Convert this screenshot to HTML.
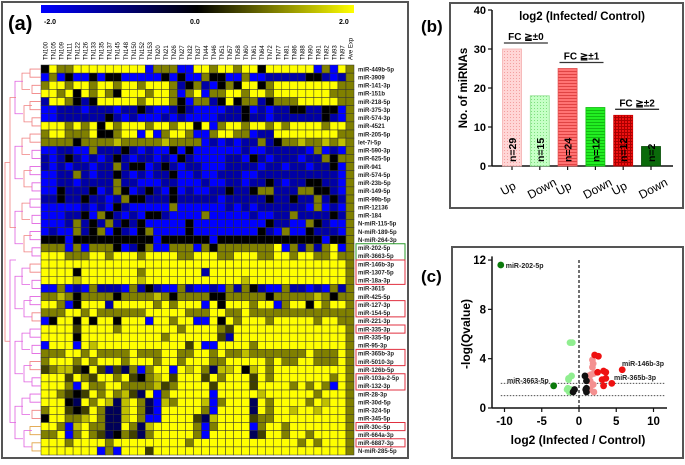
<!DOCTYPE html>
<html><head><meta charset="utf-8"><style>
body{margin:0;background:#fff;font-family:"Liberation Sans",sans-serif}
svg text{font-family:"Liberation Sans",sans-serif}
</style></head><body>
<svg id="fig" width="685" height="460" viewBox="0 0 685 460" xmlns="http://www.w3.org/2000/svg">
<defs>
<linearGradient id="cbar" x1="0" x2="1" y1="0" y2="0"><stop offset="0" stop-color="#0000ff"/><stop offset="0.5" stop-color="#000000"/><stop offset="1" stop-color="#ffff00"/></linearGradient>
<pattern id="pDot" width="3" height="3" patternUnits="userSpaceOnUse"><rect width="3" height="3" fill="#ffd6d6"/><rect width="1" height="1" fill="#f3a0a0"/></pattern>
<pattern id="pDotG" width="3" height="3" patternUnits="userSpaceOnUse"><rect width="3" height="3" fill="#c6ffc6"/><rect width="1" height="1" fill="#7fe07f"/></pattern>
<pattern id="pStripe" width="4" height="3" patternUnits="userSpaceOnUse"><rect width="4" height="3" fill="#ff7373"/><rect y="2" width="4" height="1" fill="#e04444"/></pattern>
<pattern id="pStripeG" width="4" height="3" patternUnits="userSpaceOnUse"><rect width="4" height="3" fill="#22ee22"/><rect y="2" width="4" height="1" fill="#11bb11"/></pattern>
<pattern id="pGrid" width="3" height="3" patternUnits="userSpaceOnUse"><rect width="3" height="3" fill="#ee1111"/><rect width="1" height="3" fill="#aa0000"/><rect width="3" height="1" fill="#aa0000"/></pattern>
</defs>
<rect x="2" y="2" width="406" height="456" fill="#fff" stroke="#555" stroke-width="2"/>
<rect x="450" y="3" width="233" height="205" fill="#fff" stroke="#555" stroke-width="2"/>
<rect x="452" y="247" width="231" height="211" fill="#fff" stroke="#555" stroke-width="2"/>
<text x="8" y="30" font-size="20" font-weight="bold">(a)</text>
<text x="421" y="32" font-size="17" font-weight="bold">(b)</text>
<text x="421" y="282" font-size="17" font-weight="bold">(c)</text>
<rect x="41" y="5" width="313" height="8" fill="url(#cbar)"/>
<text x="44" y="24" font-size="7" font-weight="bold">-2.0</text>
<text x="190" y="24" font-size="7" font-weight="bold">0.0</text>
<text x="339" y="24" font-size="7" font-weight="bold">2.0</text>
<g id="hm"></g><g id="bar"></g><g id="vol"></g>
</svg>
<script>
const NS="http://www.w3.org/2000/svg";
function mk(p,t,a,txt){const e=document.createElementNS(NS,t);for(const k in a)e.setAttribute(k,a[k]);if(txt!==undefined)e.textContent=txt;p.appendChild(e);return e;}
// ---------- heatmap data ----------
const hmColumns=["TN100","TN105","TN109","TN111","TN122","TN126","TN133","TN135","TN137","TN145","TN148","TN150","TN152","TN153","TN20","TN21","TN26","TN27","TN32","TN37","TN44","TN46","TN51","TN57","TN58","TN60","TN61","TN64","TN72","TN77","TN81","TN86","TN88","TN90","TN91","TN92","TN93","TN97","Ave Exp"];
const hmRowLabels=["miR-449b-5p","miR-3909","miR-141-3p","miR-151b","miR-218-5p","miR-375-3p","miR-574-3p","miR-4521","miR-205-5p","let-7i-5p","miR-590-3p","miR-625-5p","miR-941","miR-574-5p","miR-23b-5p","miR-149-5p","miR-99b-5p","miR-12136","miR-184","N-miR-115-5p","N-miR-189-5p","N-miR-264-3p","miR-202-5p","miR-3663-5p","miR-146b-3p","miR-1307-5p","miR-18a-3p","miR-3615","miR-425-5p","miR-127-3p","miR-154-5p","miR-221-3p","miR-335-3p","miR-335-5p","miR-95-3p","miR-365b-3p","miR-5010-3p","miR-126b-5p","miR-103a-2-5p","miR-132-3p","miR-28-3p","miR-30d-5p","miR-324-5p","miR-345-5p","miR-30c-5p","miR-664a-3p","miR-6887-3p","N-miR-285-5p"];
const hmLevelKeys="Bbnkdoly";
const hmLevelValues=[-2,-1.3,-0.7,0,0.5,1,1.5,2];
const hmRows=[
"kyooyyyyyyyyyBoooBByyoyyoyykyyyyyyBoBy",
"BoBkBBkBkkBBBBBkBkBBokkBBoBBbbbbbkkbBb",
"oyyoyyoyyoyyoyyyobkobBkokyykoyyyyyyyyo",
"yyoykyoyokyyyoyyoBoyBooyyoyyoyyyyyyyoo",
"byyokbkyyyyyoyyyokBoobkykoobkoooyyyyyo",
"BBbbbBbbbBbbkbBBbkbBBBBbbkBbBbbkkbbkkB",
"BBbbbbbbkbBbBBBbBbBBBBbbbkbbBbbbbbbkbB",
"yyyoyoykyoyyyoyyoyykyBoyyoyyoyoyyyyoyy",
"oyyoooykkoyyByBoyyoBBoyyooBbbyyyyyyyyo",
"ooookoooolooooolooooBbBbBbbobkooloolol",
"BBbbBBobbbkbBbBBkBkBBBBBBbBBbbbbbBoBbB",
"bBbkbBbBbkbBbbBbBkbBBBBbbBkbBbbbBbboko",
"bBbBbbBbbobkkBbkbBbbBBBbbbbBbbBbbBbbkB",
"BBbbobBbbkbBbBbbkBBbBBbbbBBbbbbbbbbbbB",
"BBbbBbbbbobbBBBbbBBBbBBbbBbbkbBbbkkbbB",
"BBkbbbkBbokBbkbBkBbBBbbkbbkoobbbookkbB",
"bbkbbkbbBbokkbbbkbbbbbBbbbbbkbbkbbobkb",
"BBBBBbBbBkbBBBBBoBBBBBBbBbBbbbbbbBoBbB",
"BBBbbkBokbBbBkkbBBBBoBBBBBbBBbbobbbbkb",
"BBBbobkbobkbkBBBBBkBBBBBBBBBkbbBBokbBB",
"BbBBobkoBkbBkoBBBBkBBBBBBBBkbBoBBkbbbB",
"kkkBkkkkkkkkkkBkkkkkkBkkkkkkkkkkkkkBkk",
"oooBoBoookBbkoBBoooBokoooooooyBoboboyB",
"yyyoooyyoyyyoyyyyooyyyooyyyooyyoyyooyo",
"yyyyyyyyyyyyyyyyyyyyyyyyyyyyyyyyyyyyyy",
"yyyykyyyyyyyoyyyyyyybyyyyyyyyyyyyyyyyy",
"yyyylyyyyyyylyyyyyyyyyyyylyyyyyyyyyyyy",
"BBoBbBobbbBobkbBBobBBbBobokbBBobbBbBob",
"oolokooookoooolokooookkoooookoooooloko",
"yyoBkyyybyyyyyoyoyyyBykyyyoyyBoyykyoyy",
"oooyyoyooooooyyyyyoooyyooyoooooooooooo",
"BkyykykyykyyyByyoyyBBykyoyyyoyyyyyoyyo",
"yyyydyyyyoyyyyyyyoyyyyodyyyyyyyyyyyyyy",
"yyyykyyyyyyyyyyoyyyyyydbyyyyyyyyyyyyyy",
"ByyyBylyyyyyyyyyyydyBByyyyoyyyyyyyyyyy",
"oooyyoyooooyoooyyooyyoyooloooooooyoooy",
"oyyyoyoyyyoyyyoyyoyyyooyyyyyoyooyyoooy",
"dolldkydbdnoBoyyBylyonllyklyoyyyyyyyyy",
"yyydyodyyoydkolydyyydyoyyydyoyyyyyyyoy",
"yyyoByooyyooooldoyyyydyyyydyyyyoyoyoBy",
"yyodkdyoyoldnyBoyyyyyByyyyylyyyyyyoyyy",
"yyyknyoylnlyonBloyyylBoyyynyoyyyyoylyy",
"oyydkdyonnlyonByyyyyoByyyynyoyylyylyyy",
"kyyoolyonnlyoBByyyydnlyyyydooyyyyyyyyy",
"yyoBlyoonnyonlyyyyyoBoyyyyBoyyoyyyyyyy",
"ooyBoyodnkodnoyyyyyoByyyyyndyyoyyoyyyy",
"yyyoyyyyoyyyyyyyyyoyyyyyyyyyyyyyoyoyyy",
"yyyyyyyBoByyydyyyyyyyyyyyyyyyyyyyyyyyy"
];
function hmColor(v){
  if(v<0){const t=Math.min(1,-v/2);return `rgb(0,0,${Math.round(255*t)})`;}
  const t=Math.min(1,v/2);return `rgb(${Math.round(255*t)},${Math.round(255*t)},0)`;
}
const hm=document.getElementById('hm');
const gx0=41,gy0=65,gx1=354,gy1=455;
const nCol=hmColumns.length, nRow=hmRows.length;
const cw=(gx1-gx0)/nCol, ch=(gy1-gy0)/nRow;
mk(hm,'rect',{x:gx0,y:gy0,width:gx1-gx0,height:gy1-gy0,fill:'#333'});
hmRows.forEach((row,r)=>{
  for(let c=0;c<nCol;c++){
    const key=row[c]||'o';
    const v=hmLevelValues[hmLevelKeys.indexOf(key)];
    const el=mk(hm,'rect',{x:(gx0+c*cw).toFixed(2),y:(gy0+r*ch).toFixed(2),width:cw.toFixed(2),height:ch.toFixed(2),fill:hmColor(v),stroke:'#333','stroke-width':0.5});
    
    
  }
});
hmColumns.forEach((c,i)=>{
  const x=gx0+i*cw+cw/2+2.5;
  const t=mk(hm,'text',{x:x,y:60,'font-size':6,transform:`rotate(-90 ${x} 60)`},c);
  
  
});
hmRowLabels.forEach((l,i)=>{
  const t=mk(hm,'text',{x:358,y:(gy0+i*ch+ch/2+2.3).toFixed(2),'font-size':6,'font-weight':'bold',fill:'#222'},l);
  
  
});
const greenBox=[[22,23]];
const redBoxes=[[24,26],[29,30],[32,32],[35,36],[38,39],[44,44],[46,46]];
function box(b,col,name){const e=mk(hm,'rect',{x:356,y:(gy0+b[0]*ch).toFixed(2),width:49,height:((b[1]-b[0]+1)*ch).toFixed(2),fill:'none',stroke:col,'stroke-width':1});}
greenBox.forEach(b=>box(b,'#2a9a2a','highlight-box-green'));
redBoxes.forEach(b=>box(b,'#e03040','highlight-box-red'));
const dg=mk(hm,'g',{fill:'none','stroke-width':0.8});


function br(x,y1,y2,len,col){mk(dg,'path',{d:`M${x+len},${y1}H${x}V${y2}H${x+len}`,stroke:col});}
for(let r=0;r<nRow;r+=2){const y=gy0+r*ch+ch/2;const col=r<44?(r<22?(r<10?'#f08080':'#e060e0'):(r%6==0?'#f08080':'#e060e0')):'#e0a040';br(30+(r%4),y,y+ch,gx0-30-(r%4),col);}
for(let r=0;r<nRow;r+=4){const y=gy0+r*ch+ch;br(22+(r%8)/2,y,y+2*ch,8,r<22?'#f08080':'#e060e0');}
for(let r=0;r<nRow;r+=8){const y=gy0+r*ch+2*ch;br(15,y,y+4*ch,8,'#e060e0');}
br(10,gy0+4*ch,gy0+20*ch,6,'#f08080');br(10,gy0+24*ch,gy0+44*ch,6,'#e060e0');br(5,gy0+12*ch,gy0+34*ch,5,'#f08080');

// ---------- bar chart ----------
const barCategories=["Up","Down","Up","Down","Up","Down"];
const barValues=[30,18,25,15,13,5];
const barCounts=["n=29","n=15","n=24","n=12","n=12","n=2"];
const barFills=["url(#pDot)","url(#pDotG)","url(#pStripe)","url(#pStripeG)","url(#pGrid)","#0a6a0a"];
const barStrokes=["#f4b0b0","#8fe08f","#e05050","#11c011","#cc0000","#064d06"];
const barYTicks=[0,10,20,30,40];
const fcGroups=["FC \u2267\u00B10","FC \u2267\u00B11","FC \u2267\u00B12"];
const bg=document.getElementById('bar');
const bx0=492,bx1=673,by0=166,by1=10;
const yB=v=>by0-(v/40)*(by0-by1);
const xB=i=>512+i*27.8;
mk(bg,'line',{x1:bx0,y1:by1,x2:bx0,y2:by0,stroke:'#111','stroke-width':1.5});
mk(bg,'line',{x1:bx0,y1:by0,x2:bx1,y2:by0,stroke:'#111','stroke-width':1.5});
barYTicks.forEach(t=>{mk(bg,'line',{x1:bx0-4,y1:yB(t),x2:bx0,y2:yB(t),stroke:'#111','stroke-width':1.2});
  const e=mk(bg,'text',{x:bx0-6,y:yB(t)+4,'font-size':11,'font-weight':'bold','text-anchor':'end'},t);});
barValues.forEach((v,i)=>{
  const x=xB(i);
  mk(bg,'line',{x1:x,y1:by0,x2:x,y2:by0+4,stroke:'#111','stroke-width':1.2});
  const r=mk(bg,'rect',{x:x-9.5,y:yB(v),width:19,height:by0-yB(v),fill:barFills[i],stroke:barStrokes[i],'stroke-width':0.8});
  
  
  const ty=by0-4;
  const t=mk(bg,'text',{x:x+4,y:ty,'font-size':10.5,'font-weight':'bold',transform:`rotate(-90 ${x+4} ${ty})`},barCounts[i]);
  
  const lx=x+(i%2?4:-2), ly=by0+26;
  const c=mk(bg,'text',{x:lx,y:ly,'font-size':12,'text-anchor':'middle',transform:`rotate(-28 ${lx} ${ly})`},barCategories[i]);
  
});
fcGroups.forEach((g,k)=>{
  const x=(xB(2*k)+xB(2*k+1))/2, top=yB(Math.max(barValues[2*k],barValues[2*k+1]))-6;
  mk(bg,'line',{x1:x-22,y1:top,x2:x+22,y2:top,stroke:'#333','stroke-width':1.3});
  const e=mk(bg,'text',{x:x,y:top-3,'font-size':10,'font-weight':'bold','text-anchor':'middle'},g);
  
});
(function(){const t=mk(bg,'text',{x:582,y:20,'font-size':11.5,'font-weight':'bold','text-anchor':'middle'},'log2 (Infected/ Control)');
const y=mk(bg,'text',{x:467,y:88,'font-size':11.5,'font-weight':'bold','text-anchor':'middle',transform:'rotate(-90 467 88)'},'No. of miRNAs');})();

// ---------- volcano ----------
const volDarkGreenX=[-10.5,-3.4];
const volDarkGreenY=[11.6,1.8];
const volLightGreenX=[-1.2,-0.9,-1.4,-1.0,-1.5,-1.3,-1.1,-1.4,-1.6];
const volLightGreenY=[5.3,5.3,2.4,2.6,1.6,1.3,1.5,2.3,1.5];
const volBlackX=[0.8,1.0,-0.6,-0.8,1.0,1.0,0.9];
const volBlackY=[2.6,2.2,1.5,1.3,1.6,1.3,1.5];
const volPinkX=[1.8,1.9,1.6,2.0,1.5,1.9,1.5,2.0,1.8,1.3];
const volPinkY=[3.9,3.6,2.7,2.8,2.2,1.9,1.5,1.3,3.3,2.6];
const volRedX=[2.1,2.6,2.5,3.3,3.6,3.1,3.6,4.4,3.3,5.8];
const volRedY=[4.3,4.2,2.9,3.0,2.9,2.3,2.4,2.0,1.8,3.1];
const volXTicks=[-10,-5,0,5,10];
const volYTicks=[0,4,8,12];
const vg=document.getElementById('vol');
const xV=v=>579+v*7.45, yV=v=>408-v*12.33;
mk(vg,'line',{x1:492,y1:yV(12.3),x2:492,y2:408,stroke:'#111','stroke-width':1.5});
mk(vg,'line',{x1:492,y1:408,x2:667,y2:408,stroke:'#111','stroke-width':1.5});
volXTicks.forEach(t=>{mk(vg,'line',{x1:xV(t),y1:408,x2:xV(t),y2:412,stroke:'#111','stroke-width':1.2});
  const e=mk(vg,'text',{x:xV(t),y:425,'font-size':11.5,'font-weight':'bold','text-anchor':'middle'},t);});
volYTicks.forEach(t=>{mk(vg,'line',{x1:488,y1:yV(t),x2:492,y2:yV(t),stroke:'#111','stroke-width':1.2});
  const e=mk(vg,'text',{x:486,y:yV(t)+4,'font-size':11.5,'font-weight':'bold','text-anchor':'end'},t);});
mk(vg,'line',{x1:xV(0),y1:yV(12),x2:xV(0),y2:408,stroke:'#111','stroke-width':1.2,'stroke-dasharray':'3,2'});
[2,1].forEach(t=>mk(vg,'line',{x1:xV(-10.5),y1:yV(t),x2:xV(11.5),y2:yV(t),stroke:'#333','stroke-width':0.9,'stroke-dasharray':'1.5,1.5'}));
function pts(xs,ys,col,name){xs.forEach((x,i)=>{const c=mk(vg,'circle',{cx:xV(x),cy:yV(ys[i]),r:3.4,fill:col});});}
pts(volLightGreenX,volLightGreenY,'#90ee90','point-down-minor');
pts(volPinkX,volPinkY,'#f49090','point-up-minor');
pts(volRedX,volRedY,'#ee1111','point-up-major');
pts(volBlackX,volBlackY,'#111','point-nonsig');
pts(volDarkGreenX,volDarkGreenY,'#0b7a0b','point-down-major');
[["miR-202-5p",xV(-10.5)+5,yV(11.6)+3,'start'],["miR-3663-5p",xV(-3.4)-5,yV(1.8)-3,'end'],["miR-146b-3p",622,366,'start'],["miR-365b-3p",614,380,'start']].forEach(a=>{
  const e=mk(vg,'text',{x:a[1],y:a[2],'font-size':7,'font-weight':'bold','text-anchor':a[3],fill:'#222'},a[0]);});
(function(){const t=mk(vg,'text',{x:578,y:444,'font-size':12,'font-weight':'bold','text-anchor':'middle'},'log2 (Infected / Control)');
const y=mk(vg,'text',{x:470,y:334,'font-size':12,'font-weight':'bold','text-anchor':'middle',transform:'rotate(-90 470 334)'},'-log(Qvalue)');})();
</script>
</body></html>
